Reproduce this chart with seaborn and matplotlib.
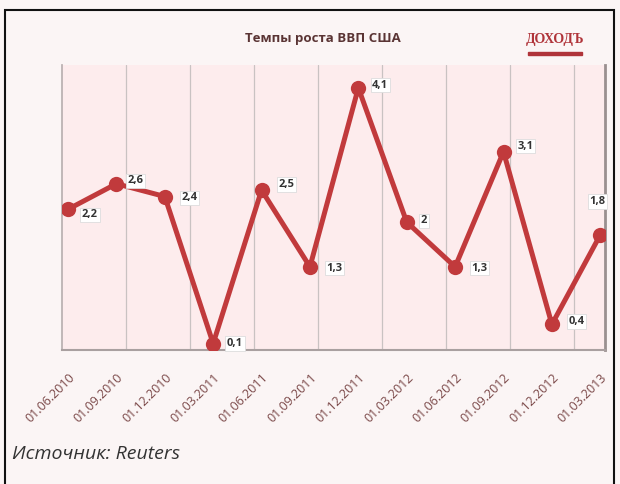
import matplotlib
matplotlib.use("Agg")
import matplotlib.pyplot as plt
import seaborn as sns
import pandas as pd
import numpy as np

dates = ["01.06.2010", "01.09.2010", "01.12.2010", "01.03.2011", "01.06.2011",
         "01.09.2011", "01.12.2011", "01.03.2012", "01.06.2012", "01.09.2012",
         "01.12.2012", "01.03.2013"]
values = [2.2, 2.6, 2.4, 0.1, 2.5, 1.3, 4.1, 2.0, 1.3, 3.1, 0.4, 1.8]
labels = ["2,2", "2,6", "2,4", "0,1", "2,5", "1,3", "4,1", "2", "1,3", "3,1", "0,4", "1,8"]

sns.set_theme(style="white")
plt.rcParams['font.family'] = ['Open Sans', 'DejaVu Sans']

df = pd.DataFrame({"idx": np.arange(len(values)), "value": values})

fig = plt.figure(figsize=(6.2, 4.84), dpi=100)
fig.patch.set_facecolor("#fbf5f5")
ax = fig.add_axes([0.1, 0.277, 0.876, 0.589])
ax.set_facecolor("#fdeced")

line_color = "#c13a3c"
sns.lineplot(data=df, x="idx", y="value", ax=ax, color=line_color, linewidth=3.6,
             marker="o", markersize=11, markeredgewidth=0, zorder=5)

ax.set_xlim(-0.124, 11.10)
ax.set_ylim(0, 4.46)

# vertical gridlines
for k in range(1, 9):
    ax.axvline(-0.124 + k * 1.3236, color="#c9c2c2", linewidth=0.9, zorder=1)

ax.set_yticks([])
ax.set_xticks(df["idx"])
ax.set_xticklabels(dates, rotation=45, ha="right", rotation_mode="anchor",
                   fontsize=9, color="#7a4747")
ax.tick_params(axis="x", length=0, pad=15)
ax.set_xlabel("")
ax.set_ylabel("")

ax.spines["top"].set_visible(False)
ax.spines["left"].set_color("#b9b0b0")
ax.spines["bottom"].set_color("#a9a0a0")
ax.spines["bottom"].set_linewidth(1.5)
ax.spines["right"].set_color("#9a9090")
ax.spines["right"].set_linewidth(2)

offsets = [(10, -4), (8, 2), (12, -1), (10, 0), (12, 4), (12, -1),
           (10, 2), (10, 1), (12, -1), (10, 4), (12, 2), (-8, 24)]
for i, (v, lab) in enumerate(zip(values, labels)):
    ax.annotate(lab, (i, v), xytext=offsets[i], textcoords="offset points",
                fontsize=8, fontweight="bold", color="#333333", va="center", ha="left",
                bbox=dict(boxstyle="square,pad=0.15", fc="#ffffff", ec="#dddddd", lw=0.6),
                zorder=6)

fig.text(0.52, 0.92, "Темпы роста ВВП США", ha="center", va="center",
         fontsize=9.5, fontweight="bold", color="#5a3434")
fig.text(0.895, 0.918, "ДОХОДЪ", ha="center", va="center", fontsize=10,
         fontweight="bold", color="#b0343a", family=["Liberation Serif", "DejaVu Serif"])
fig.patches.append(plt.Rectangle((0.852, 0.886), 0.087, 0.007, transform=fig.transFigure,
                                 color="#b0343a"))
fig.text(0.02, 0.062, "Источник: Reuters", ha="left", va="center", fontsize=14,
         style="italic", color="#333333")

# outer black frame
fig.patches.append(plt.Rectangle((0.008, -0.01), 0.982, 0.99, transform=fig.transFigure,
                                 fill=False, ec="#111111", lw=1.5))

fig.savefig("out.png", dpi=100, facecolor=fig.get_facecolor())
